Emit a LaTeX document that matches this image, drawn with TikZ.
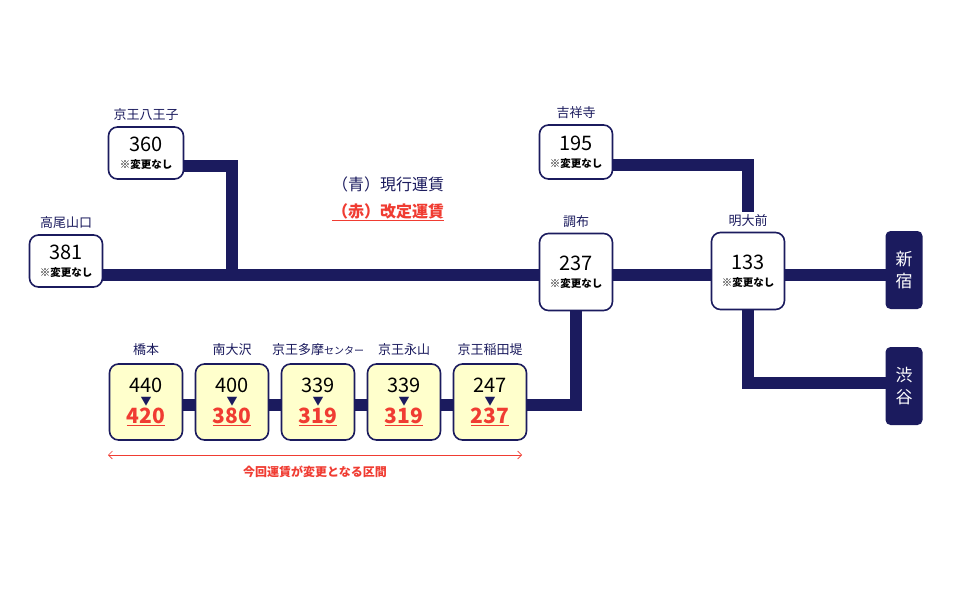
\documentclass[tikz,border=0pt]{standalone}
\usepackage{fontspec}
\setmainfont{Noto Sans CJK JP}
\usetikzlibrary{positioning,arrows.meta}
\definecolor{navy}{RGB}{27,27,94}
\definecolor{fare}{RGB}{240,60,50}
\definecolor{cream}{RGB}{255,255,204}
\tikzset{
  stn/.style={draw=navy,line width=1.6pt,rounded corners=9pt,fill=white,minimum width=73pt,minimum height=76pt,align=center,inner sep=0pt},
  chg/.style={stn,fill=cream},
  term/.style={fill=navy,rounded corners=5pt,minimum width=37pt,minimum height=78pt,text=white,align=center,font=\fontsize{17}{22}\selectfont},
  lbl/.style={text=navy,font=\fontsize{13}{15}\selectfont},
  track/.style={navy,line width=12pt},
}
\newcommand{\same}[1]{{\fontsize{20}{24}\selectfont #1}\\[5pt]{\fontsize{10.5}{12}\selectfont\bfseries ※変更なし}}
\newcommand{\newfare}[2]{{\fontsize{20}{20}\selectfont #1}\\[1pt]{\fontsize{11}{11}\selectfont\color{navy}▼}\\[0pt]{\fontsize{21}{21}\selectfont\bfseries\color{fare}\underline{#2}}}
\begin{document}
\begin{tikzpicture}[x=1pt,y=-1pt]
\useasboundingbox[fill=white] (0,0) rectangle (968,605);
% tracks
\draw[track] (103,275) -- (886,275);
\draw[track] (184,166) -- (232,166) -- (232,275);
\draw[track] (612,165) -- (748,165) -- (748,212);
\draw[track] (748,310) -- (748,383) -- (886,383);
\draw[track] (576,310) -- (576,405) -- (526,405);
\draw[track] (146,405) -- (490,405);
% stations
\node[stn,minimum height=52pt] (takao) at (66,261) {\same{381}};
\node[stn,minimum height=52pt,minimum width=75pt] (hachi) at (146,153) {\same{360}};
\node[stn,minimum height=54pt] (kichi) at (576,152) {\same{195}};
\node[stn,minimum height=77pt] (chofu) at (576,272) {\same{237}};
\node[stn,minimum height=77pt] (meidai) at (748,271) {\same{133}};
\node[term] (shinjuku) at (904,270) {新\\宿};
\node[term] (shibuya) at (904,386) {渋\\谷};
\node[lbl,above=2pt of takao] {高尾山口};
\node[lbl,above=2pt of hachi] {京王八王子};
\node[lbl,above=2pt of kichi] {吉祥寺};
\node[lbl,above=2pt of chofu] {調布};
\node[lbl,above=2pt of meidai] {明大前};
% changed section
\foreach \x/\n/\name/\old/\new in {146/hashi/橋本/440/420,232/minami/南大沢/400/380,318/tama/{京王多摩{\fontsize{10}{12}\selectfont センター}}/339/319,404/naga/京王永山/339/319,490/inada/京王稲田堤/247/237}{
  \node[chg] (\n) at (\x,402) {\newfare{\old}{\new}};
  \node[lbl,above=4pt of \n] {\name};
}
\coordinate (secL) at (108,455);
\coordinate (secR) at (522,455);
\draw[fare,{Straight Barb[length=4pt,width=8pt]}-{Straight Barb[length=4pt,width=8pt]},line width=0.6pt] (secL) -- (secR);
\node[text=fare,font=\fontsize{12}{14}\selectfont\bfseries] at (315,472) {今回運賃が変更となる区間};
% legend
\node[text=navy,font=\fontsize{16}{18}\selectfont] (cur) at (388,184) {（青）現行運賃};
\node[text=fare,font=\fontsize{16}{18}\selectfont\bfseries,below=5pt of cur] {\underline{（赤）改定運賃}};
\end{tikzpicture}
\end{document}
